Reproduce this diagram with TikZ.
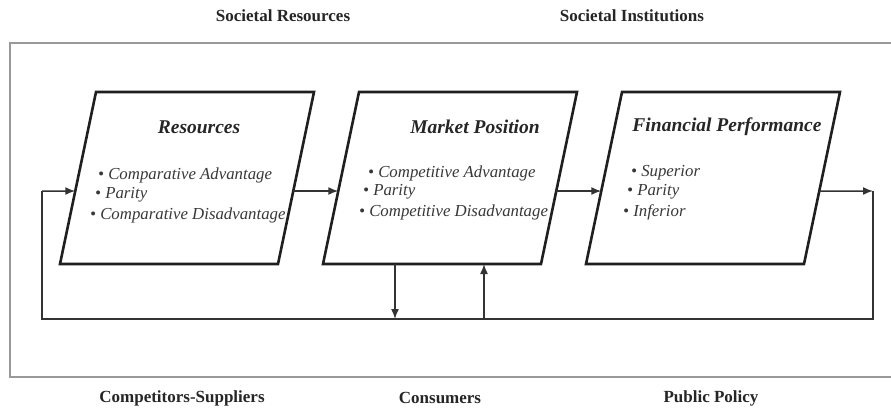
\documentclass[tikz,border=0pt]{standalone}
\usepackage{fontspec}
\setmainfont{Liberation Serif}
\usetikzlibrary{arrows.meta,calc}
\begin{document}
\begin{tikzpicture}[x=1pt,y=-1pt,
 box/.style={line width=2.6pt, draw=black!88, line join=miter},
 conn/.style={line width=1.5pt, draw=black!80},
 arr/.style={conn, -{Latex[length=10pt,width=8pt]}},
 frame/.style={line width=1.1pt, draw=black!40},
 head/.style={font=\fontsize{17}{20}\selectfont\bfseries, text=black!85, inner sep=0pt},
 title/.style={font=\fontsize{19.5}{23}\selectfont\bfseries\itshape, text=black!85, inner sep=0pt},
 item/.style={font=\fontsize{16.8}{20}\selectfont\itshape, text=black!78, inner sep=0pt, anchor=west},
]
\useasboundingbox (0,0) rectangle (891,409);
\fill[white] (0,0) rectangle (891,409);

% outer frame
\draw[frame] (10,43) rectangle (895,377);

% headings
\node[head] (hres) at (283,16) {Societal Resources};
\node[head] (hinst) at (632,16) {Societal Institutions};
\node[head] (hcomp) at (182,398) {Competitors-Suppliers};
\node[head] (hcons) at (440,398) {Consumers};
\node[head] (hpol) at (711,398) {Public Policy};

% box corners
\coordinate (b1tl) at (96,92);  \coordinate (b1tr) at (314,92);
\coordinate (b1bl) at (60,264); \coordinate (b1br) at (278,264);
\coordinate (b2tl) at (359,92); \coordinate (b2tr) at (577,92);
\coordinate (b2bl) at (323,264);\coordinate (b2br) at (541,264);
\coordinate (b3tl) at (622,92); \coordinate (b3tr) at (840,92);
\coordinate (b3bl) at (586,264);\coordinate (b3br) at (804,264);

\draw[box] (b1tl) -- (b1tr) -- (b1br) -- (b1bl) -- cycle;
\draw[box] (b2tl) -- (b2tr) -- (b2br) -- (b2bl) -- cycle;
\draw[box] (b3tl) -- (b3tr) -- (b3br) -- (b3bl) -- cycle;

% box texts
\node[title] (t1) at (199,127) {Resources};
\node[item] (r1) at (98,175) {\textbullet{} Comparative Advantage};
\node[item] (r2) at (95,195) {\textbullet{} Parity};
\node[item] (r3) at (90,215) {\textbullet{} Comparative Disadvantage};

\node[title] (t2) at (475,127) {Market Position};
\node[item] (m1) at (368,173) {\textbullet{} Competitive Advantage};
\node[item] (m2) at (363,192) {\textbullet{} Parity};
\node[item] (m3) at (359,212) {\textbullet{} Competitive Disadvantage};

\node[title] (t3) at (727,127) {Financial Performance};
\node[item] (f1) at (631,173) {\textbullet{} Superior};
\node[item] (f2) at (627,192) {\textbullet{} Parity};
\node[item] (f3) at (623,212) {\textbullet{} Inferior};

% connection points on sides (y = 191)
\coordinate (b1l) at ($(b1tl)!0.5756!(b1bl)$);
\coordinate (b1r) at ($(b1tr)!0.5756!(b1br)$);
\coordinate (b2l) at ($(b2tl)!0.5756!(b2bl)$);
\coordinate (b2r) at ($(b2tr)!0.5756!(b2br)$);
\coordinate (b3l) at ($(b3tl)!0.5756!(b3bl)$);
\coordinate (b3r) at ($(b3tr)!0.5756!(b3br)$);

\coordinate (rc) at (873,191);
\coordinate (rb) at (873,319);
\coordinate (lb) at (42,319);
\coordinate (lc) at (42,191);
\coordinate (d1) at (395,264);
\coordinate (d2) at (395,319);
\coordinate (u1) at (484,319);
\coordinate (u2) at (484,264);

\draw[arr] (b1r) -- (b2l);
\draw[arr] (b2r) -- (b3l);
\draw[arr] (b3r) -- (rc);
\draw[conn] (rc) -- (rb) -- (lb) -- (lc);
\draw[arr] (lc) -- (b1l);
\draw[arr] (d1) -- (d2);
\draw[arr] (u1) -- (u2);
\end{tikzpicture}
\end{document}
